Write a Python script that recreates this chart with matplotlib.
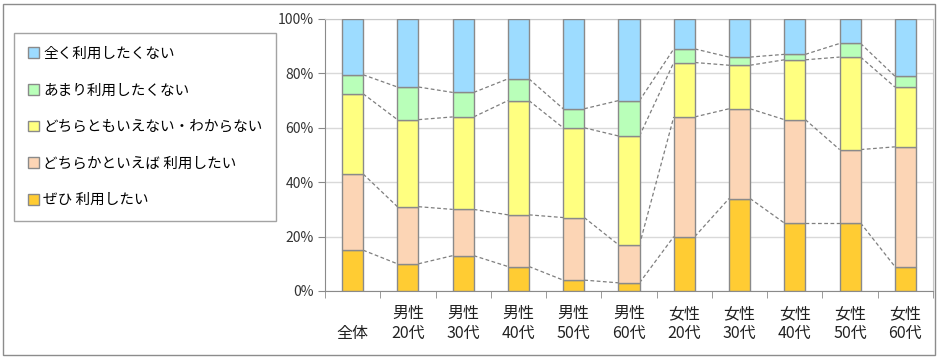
import matplotlib
matplotlib.use("Agg")
import matplotlib.pyplot as plt
from matplotlib.patches import Rectangle, Patch
import numpy as np

plt.rcParams['font.family'] = ['Noto Sans CJK JP', 'DejaVu Sans']

categories = ["全体", "男性\n20代", "男性\n30代", "男性\n40代", "男性\n50代", "男性\n60代",
              "女性\n20代", "女性\n30代", "女性\n40代", "女性\n50代", "女性\n60代"]
series_names = ["ぜひ 利用したい", "どちらかといえば 利用したい", "どちらともいえない・わからない",
                "あまり利用したくない", "全く利用したくない"]
zehi = [15, 10, 13, 9, 4, 3, 20, 34, 25, 25, 9]
dochiraka = [28, 21, 17, 19, 23, 14, 44, 33, 38, 27, 44]
dochiramo = [29.5, 32, 34, 42, 33, 40, 20, 16, 22, 34, 22]
amari = [7, 12, 9, 8, 7, 13, 5, 3, 2, 5, 4]
mattaku = [20.5, 25, 27, 22, 33, 30, 11, 14, 13, 9, 21]
yticks = [0, 20, 40, 60, 80, 100]

colors = ["#FFCC33", "#FCD5B5", "#FFFF80", "#B9FFB9", "#9DDCFF"]
series = [zehi, dochiraka, dochiramo, amari, mattaku]

fig = plt.figure(figsize=(9.39, 3.63), dpi=100)
# outer border
fig.patches.append(Rectangle((3/939, 8/363), 932/939, 351/363, transform=fig.transFigure,
                             fill=False, edgecolor="#8c8c8c", lw=1.0))
ax = fig.add_axes([325/939, (363-291)/363, (933-325)/939, (291-19)/363])

x = np.arange(len(categories))
w = 0.38
bottom = np.zeros(len(categories))
tops = []
for vals, c in zip(series, colors):
    v = np.array(vals, dtype=float)
    ax.bar(x, v, w, bottom=bottom, color=c, edgecolor="#8a8a8a", linewidth=1.0, zorder=3)
    bottom = bottom + v
    tops.append(bottom.copy())

# dashed series lines
for t in tops[:-1]:
    for i in range(len(x) - 1):
        ax.plot([x[i] + w/2, x[i+1] - w/2], [t[i], t[i+1]], ls=(0, (3, 2)),
                color="#7f7f7f", lw=0.9, zorder=2)

ax.set_xlim(-0.5, len(categories) - 0.5)
ax.set_ylim(0, 100)
ax.set_yticks(yticks)
ax.set_yticklabels([f"{v}%" for v in yticks], fontsize=10, color="#333333")
ax.yaxis.grid(True, color="#d9d9d9", lw=1.0, zorder=0)
ax.set_axisbelow(True)

ax.set_xticks(x)
labels = [c if "\n" in c else " \n" + c for c in categories]
ax.set_xticklabels(labels, fontsize=11.5, color="#222222", linespacing=1.25)
ax.set_xticks(np.arange(-0.5, len(categories)), minor=True)
ax.tick_params(axis="x", which="major", length=0, pad=10)
ax.tick_params(axis="x", which="minor", length=5, color="#8a8a8a", direction="out")
ax.tick_params(axis="y", length=5, color="#8a8a8a", direction="out", pad=3)

for s in ["left", "bottom"]:
    ax.spines[s].set_color("#8a8a8a")
for s in ["top", "right"]:
    ax.spines[s].set_color("#c8c8c8")

handles = [Patch(facecolor=c, edgecolor="#8a8a8a", label=n) for c, n in zip(colors, series_names)]
handles = handles[::-1]
leg = fig.legend(handles=handles, loc="upper left", bbox_to_anchor=(14/939, 1 - 33/363),
                 fontsize=10.5, frameon=True, fancybox=False, edgecolor="#8c8c8c",
                 handlelength=0.75, handleheight=0.75, handletextpad=0.3,
                 labelspacing=1.55, borderpad=0.95, borderaxespad=0)
leg.get_frame().set_linewidth(1.0)

fig.savefig("out.png", dpi=100)
